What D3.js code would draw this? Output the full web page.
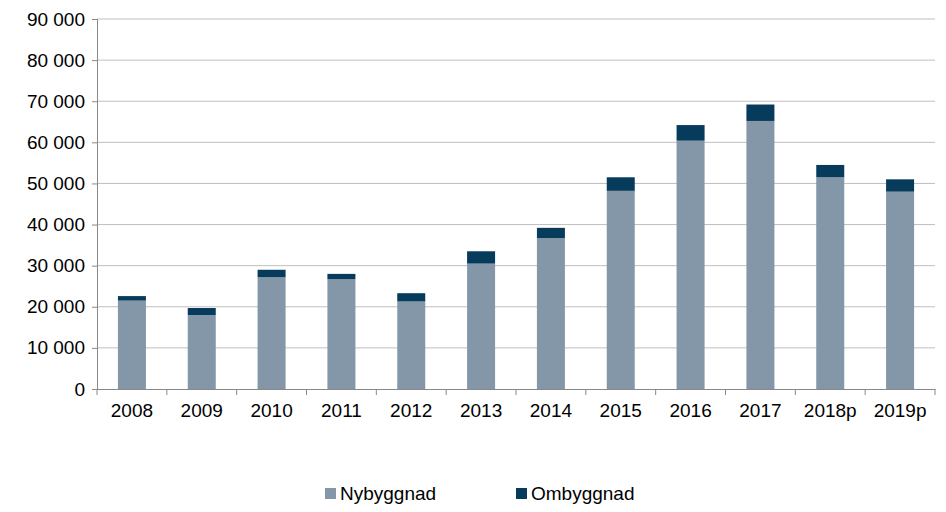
<!DOCTYPE html>
<html><head><meta charset="utf-8">
<script src="https://cdn.jsdelivr.net/npm/d3@7"></script>
<style>body{margin:0;background:#fff}text{font-family:"Liberation Sans",Arial,sans-serif;fill:#000}</style>
</head><body><svg id="c" width="946" height="512"></svg>
<script>
const categories=["2008","2009","2010","2011","2012","2013","2014","2015","2016","2017","2018p","2019p"];
const nybyggnad=[21500,18000,27200,26700,21300,30500,36700,48200,60400,65200,51500,48000];
const ombyggnad=[1100,1700,1800,1300,2000,3000,2500,3300,3800,4000,3000,3000];
const yTicks=[0,10000,20000,30000,40000,50000,60000,70000,80000,90000];
const svg=d3.select("#c");
const L=97,R=935,T=19,B=389;
const x=d3.scaleBand().domain(categories).range([L,R]);
const y=d3.scaleLinear().domain([0,90000]).range([B,T]);
const fmt=d=>d3.format(",")(d).replace(/,/g," ");
svg.append("g").selectAll("line").data(yTicks.slice(1)).join("line")
 .attr("x1",L).attr("x2",R).attr("y1",d=>y(d)).attr("y2",d=>y(d)).attr("stroke","#bfbfbf");
const bw=28;
const g=svg.append("g");
categories.forEach((c,i)=>{
 const cx=x(c)+x.bandwidth()/2;
 g.append("rect").attr("x",cx-bw/2).attr("width",bw).attr("y",y(nybyggnad[i])).attr("height",B-y(nybyggnad[i])).attr("fill","#8497a8");
 g.append("rect").attr("x",cx-bw/2).attr("width",bw).attr("y",y(nybyggnad[i]+ombyggnad[i])).attr("height",y(nybyggnad[i])-y(nybyggnad[i]+ombyggnad[i])).attr("fill","#073b5b");
});
const ya=svg.append("g").attr("transform",`translate(${L},0)`).call(d3.axisLeft(y).tickValues(yTicks).tickFormat(fmt).tickSize(5));
ya.select(".domain").attr("stroke","#888");ya.selectAll(".tick line").attr("stroke","#888");
ya.selectAll("text").attr("font-size",19).attr("font-family","Liberation Sans, Arial").attr("dx",-4);
const xa=svg.append("g").attr("transform",`translate(0,${B})`).call(d3.axisBottom(x).tickSize(0).tickPadding(15));
xa.select(".domain").attr("stroke","#888");
xa.selectAll("text").attr("font-size",19).attr("font-family","Liberation Sans, Arial");
svg.append("g").selectAll("line").data(categories.concat([""])).join("line")
 .attr("x1",(d,i)=>L+i*x.step()).attr("x2",(d,i)=>L+i*x.step()).attr("y1",B).attr("y2",B+6).attr("stroke","#888");
const leg=[["Nybyggnad","#8497a8",325],["Ombyggnad","#073b5b",516]];
leg.forEach(([t,c,lx])=>{
 svg.append("rect").attr("x",lx).attr("y",488).attr("width",11).attr("height",11).attr("fill",c);
 svg.append("text").attr("x",lx+15).attr("y",500).attr("font-size",19).text(t);
});
</script></body></html>
